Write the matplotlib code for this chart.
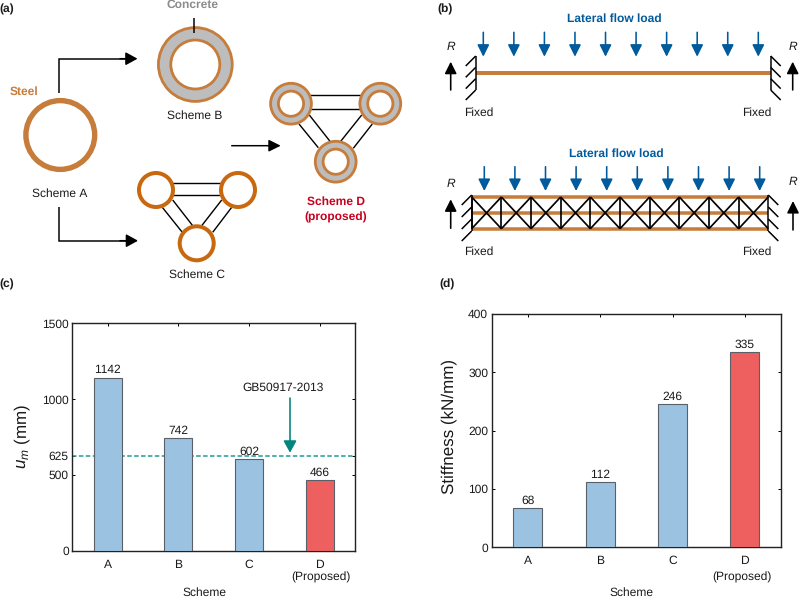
#! /usr/bin/env python
# -*- coding: utf-8 -*-
from matplotlib import pyplot as plt
from matplotlib.patches import Circle

plt.rcParams['font.family'] = ['Liberation Sans', 'DejaVu Sans']
plt.rcParams['mathtext.fontset'] = 'custom'
plt.rcParams['mathtext.rm'] = 'Liberation Sans'
plt.rcParams['mathtext.it'] = 'Liberation Sans:italic'
plt.rcParams['text.hinting'] = 'no_hinting'
plt.rcParams['text.hinting_factor'] = 1

schemes = ['A', 'B', 'C', 'D']
um_values = [1142, 742, 602, 466]
um_ticks = [0, 500, 625, 1000, 1500]
stiffness_values = [68, 112, 246, 335]
stiffness_ticks = [0, 100, 200, 300, 400]
limit_um = 625

W, H = 799, 598
PX = 0.72  # one pixel in points at dpi 100
STEEL = '#C67C3B'
STEEL_C = '#C8690F'
CONCRETE = '#BDBDBD'
BLUE = '#005A9C'
TEAL = '#00857F'
BAR_BLUE = '#9CC2E1'
BAR_RED = '#EE6060'
TEXT = '#1A1A1A'

fig = plt.figure(figsize=(W / 100, H / 100), dpi=100, facecolor='white')


def axes_px(x0, y0, x1, y1):
    return fig.add_axes([x0 / W, 1 - y1 / H, (x1 - x0) / W, (y1 - y0) / H])


def bar_panel(box, values, ticks, ymax, lab_pad):
    ax = axes_px(*box)
    colors = [BAR_BLUE, BAR_BLUE, BAR_BLUE, BAR_RED]
    xs = range(1, len(values) + 1)
    ax.bar(xs, values, width=0.4, color=colors, edgecolor='#5A6068', linewidth=1.1 * PX, zorder=3)
    for x, v in zip(xs, values):
        ax.annotate(str(v), (x, v), xytext=(0, lab_pad), textcoords='offset points',
                    ha='center', va='bottom', fontsize=8.8, color=TEXT, zorder=5)
    ax.set_xlim(0.5, 4.5)
    ax.set_ylim(0, ymax)
    ax.set_yticks(ticks)
    ax.set_xticks(list(xs))
    ax.set_xticklabels(schemes)
    ax.tick_params(direction='in', top=True, right=True, length=3 * PX, width=1 * PX,
                   labelsize=8.8, labelcolor=TEXT, pad=6)
    ax.tick_params(axis='y', pad=2.5)
    for s in ax.spines.values():
        s.set_linewidth(1.4 * PX)
        s.set_color('#222222')
    return ax


ax_c = bar_panel((72.3, 323.3, 355, 550.7), um_values, um_ticks, 1500, 1.5)
ax_c.axhline(limit_um, color='#1A9A96', linestyle=(0, (3, 1.6)), linewidth=1.5 * PX, zorder=2)
ax_d = bar_panel((491.7, 314, 781, 547.3), stiffness_values, stiffness_ticks, 400, 1)

# overlay in pixel coordinates for the schematics and loose text
ov = fig.add_axes([0, 0, 1, 1], zorder=10)
ov.set_xlim(0, W)
ov.set_ylim(H, 0)
ov.axis('off')


def txt(x, y, s, size=8.8, color=TEXT, weight='normal', **kw):
    ov.text(x, y, s, fontsize=size, color=color, fontweight=weight, ha='center', va='center', **kw)


def line(pts, color='black', lw=1.5, z=2):
    ov.plot([p[0] for p in pts], [p[1] for p in pts], color=color, linewidth=lw * PX,
            solid_capstyle='butt', solid_joinstyle='miter', zorder=z)


def arrow(p0, p1, color='black', lw=1.5, hl=10, hw=5.5):
    style = '-|>,head_length=%g,head_width=%g' % (hl * PX, hw * PX)
    ov.annotate('', xy=p1, xytext=p0, arrowprops=dict(
        arrowstyle=style, color=color, lw=lw * PX, shrinkA=0, shrinkB=0, mutation_scale=1))


def ring(c, r, color, lw, fill='white', z=3):
    ov.add_patch(Circle(c, r, facecolor=fill, edgecolor=color, linewidth=lw * PX, zorder=z))


def double_ring(c, r_out, r_in):
    ring(c, r_out, STEEL, 2.8, CONCRETE)
    ring(c, r_in, STEEL, 2.8, 'white', 4)


def braces(segs, lw=1.4):
    for s in segs:
        line(s, 'black', lw)


# panel letters
for x, y, s in [(7, 9, '(a)'), (445.5, 9, '(b)'), (7, 284, '(c)'), (447, 284, '(d)')]:
    txt(x, y, s, 8.8, TEXT, 'bold')

# (a) scheme A
ring((60.3, 135), 34.4, STEEL, 5.4)
txt(24.3, 91.7, 'Steel', 8.8, STEEL, 'bold')
txt(59.3, 193.7, 'Scheme A')
line([(58.7, 92.7), (58.7, 58.7), (128, 58.7)])
arrow((120, 58.7), (137.5, 58.7))
line([(59.3, 207), (59.3, 240.7), (128, 240.7)])
arrow((120, 240.7), (138, 240.7))

# (a) scheme B
double_ring((195.3, 64.5), 36.9, 24.5)
line([(193.7, 18.3), (193.7, 33.3)], z=5)
txt(192.7, 5, 'Concrete', 8.8, '#8C8C8C', 'bold')
txt(195, 116, 'Scheme B')

# (a) scheme C
braces([[(156, 183), (238, 183)], [(156, 195), (238, 195)],
        [(162.3, 207.3), (182.3, 232.3)], [(172.7, 200), (192.7, 225.7)],
        [(231.7, 207.3), (212.7, 232.3)], [(221.7, 200), (201.7, 225.7)]])
for c in [(156, 190), (238, 190), (196.7, 243.3)]:
    ring(c, 17, STEEL_C, 4)
txt(196.7, 274.7, 'Scheme C')

# (a) scheme D
arrow((231.7, 145.7), (280.7, 145.7), hl=10, hw=5)
braces([[(291, 95.3), (380, 95.3)], [(291, 108.7), (380, 108.7)],
        [(299, 124), (318.3, 147.7)], [(309.3, 115), (330, 141.3)],
        [(372.3, 124), (353.3, 148.3)], [(361.7, 115), (340.7, 141.3)]])
for c in [(291, 103.7), (380.3, 103.7), (335.7, 161.7)]:
    double_ring(c, 20.4, 12.6)
txt(336, 202, 'Scheme D', 8.7, '#C8001E', 'bold')
txt(336, 217, '(proposed)', 8.7, '#C8001E', 'bold')


# (b) beams
def load_row(title_x, title_y, x_first, x_last, y0, y1):
    txt(title_x, title_y, 'Lateral flow load', 8.7, BLUE, 'bold')
    for i in range(10):
        x = x_first + (x_last - x_first) * i / 9
        arrow((x, y0), (x, y1), BLUE, 1.6, 10, 5)


def wall(x, y0, y1, side):
    line([(x, y0), (x, y1)], 'black', 1.5, 5)
    for i in range(4):
        y = y0 + (y1 - y0) * i / 3
        line([(x, y), (x + side * 10, y + 10)], 'black', 1.5, 5)


def reaction(x, y_text, y0, y1):
    txt(x, y_text, 'R', 8.8, TEXT, style='italic')
    arrow((x, y0), (x, y1), 'black', 1.6, 10, 5)


load_row(614.3, 19, 483.3, 758.3, 32.3, 56.7)
line([(475.7, 73), (770.7, 73)], STEEL, 4)
wall(475.7, 56, 90, -1)
wall(770.7, 56, 90, 1)
reaction(450.7, 46.7, 90, 61.7)
reaction(792.7, 46.7, 90, 61.7)
txt(478.7, 112.7, 'Fixed')
txt(757, 112.7, 'Fixed')

load_row(616.7, 154, 484.3, 759.7, 166.7, 191)
for y in (197, 212.7, 228.7):
    line([(471.7, y), (768.3, y)], STEEL, 3.5)
for i in range(10):
    xa = 471.7 + 29.66 * i
    xb = xa + 29.66
    for seg in [[(xa, 197), (xa, 228.7)], [(xa, 197), (xb, 228.7)], [(xa, 228.7), (xb, 197)]]:
        line(seg, 'black', 1.7, 4)
wall(471.7, 195, 231, -1)
wall(768.3, 195, 231, 1)
reaction(450.7, 184.3, 228.3, 199.3)
reaction(793, 181.7, 230, 201)
txt(478.7, 251.7, 'Fixed')
txt(757, 251.7, 'Fixed')

# loose text of the bar panels
txt(21.7, 436.7, '$u_m$ (mm)', 12.3, TEXT, rotation=90)
txt(449, 426.7, 'Stiffness (kN/mm)', 12.3, TEXT, rotation=90)
txt(204.5, 593, 'Scheme')
txt(631, 593, 'Scheme')
txt(320.7, 577, '(Proposed)')
txt(741.5, 577, '(Proposed)')
txt(283.3, 387.7, 'GB50917-2013')
arrow((290, 398), (290, 452.7), TEAL, 1.6, 10, 5.5)

fig.savefig('out.png', dpi=100)
